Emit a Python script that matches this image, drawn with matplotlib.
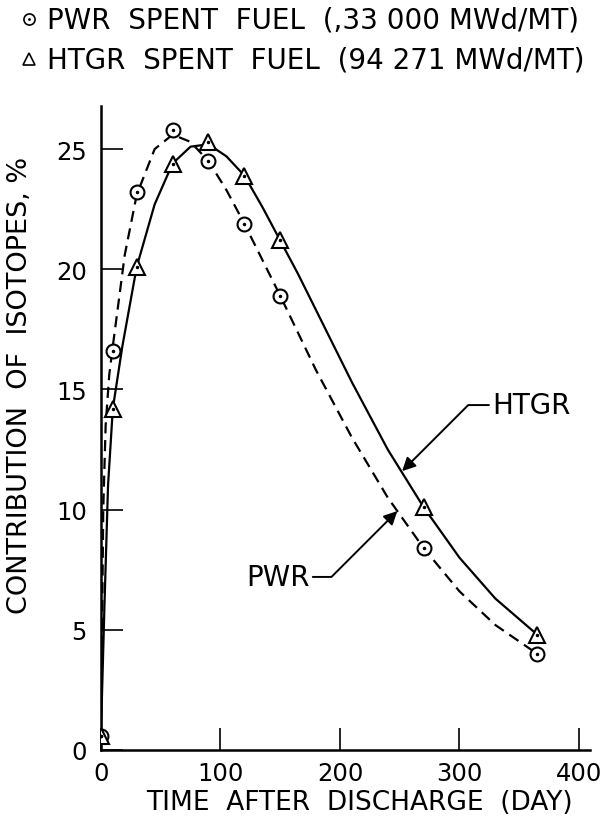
import matplotlib.pyplot as plt
from matplotlib.lines import Line2D

# measured points
days = [0, 10, 30, 60, 90, 120, 150, 270, 365]
pwr = [0.6, 16.6, 23.2, 25.8, 24.5, 21.9, 18.9, 8.4, 4.0]
htgr = [0.6, 14.2, 20.1, 24.4, 25.3, 23.9, 21.2, 10.1, 4.8]

# curves
pwr_curve_x = [0, 1, 2, 4, 7, 10, 20, 30, 45, 60, 75, 90, 105, 120, 135, 150, 180, 210, 240, 270, 300, 330, 365]
pwr_curve_y = [0.6, 5, 10, 13.5, 15.6, 16.8, 20.6, 23.1, 25.0, 25.6, 25.3, 24.5, 23.3, 21.9, 20.4, 18.9, 15.8, 13.0, 10.5, 8.4, 6.6, 5.2, 4.0]
htgr_curve_x = [0, 3, 6, 10, 18, 30, 45, 60, 75, 90, 105, 120, 135, 150, 165, 180, 195, 210, 225, 240, 255, 270, 300, 330, 365]
htgr_curve_y = [0.6, 6, 11, 14.2, 16.8, 20.1, 22.7, 24.4, 25.1, 25.2, 24.7, 23.9, 22.6, 21.2, 19.8, 18.3, 16.8, 15.3, 13.9, 12.5, 11.3, 10.1, 8.0, 6.3, 4.8]

legend_lines = ["PWR  SPENT  FUEL  (,33 000 MWd/MT)", "HTGR  SPENT  FUEL  (94 271 MWd/MT)"]

fig = plt.figure(figsize=(6.15, 8.28), dpi=100)
ax = fig.add_axes([0.164, 0.093, 0.795, 0.778])

ax.plot(htgr_curve_x, htgr_curve_y, color="black", lw=1.6, zorder=2)
ax.plot(pwr_curve_x, pwr_curve_y, color="black", lw=1.6, ls=(0, (5, 3)), zorder=2)

ax.plot(days, pwr, ls="none", marker="o", ms=10, mfc="white", mec="black", mew=1.5, zorder=3)
ax.plot(days, pwr, ls="none", marker=".", ms=3, color="black", zorder=4)
ax.plot(days, htgr, ls="none", marker="^", ms=11, mfc="white", mec="black", mew=1.5, zorder=3)
ax.plot(days, htgr, ls="none", marker=".", ms=3, color="black", zorder=4)

ax.set_xlim(0, 409)
ax.set_ylim(0, 26.8)
ax.set_xticks([0, 100, 200, 300, 400])
ax.set_yticks([0, 5, 10, 15, 20, 25])
ax.tick_params(direction="in", length=16, width=1.2, labelsize=17.5, pad=8)
ax.tick_params(axis="y", pad=10)
for s in ["top", "right"]:
    ax.spines[s].set_visible(False)
for s in ["left", "bottom"]:
    ax.spines[s].set_linewidth(1.8)
fig.text(0.585, 1 - 803 / 828, "TIME  AFTER  DISCHARGE  (DAY)", fontsize=19, ha="center", va="center")
fig.text(0.033, 1 - 385 / 828, "CONTRIBUTION  OF  ISOTOPES, %", fontsize=19.5, ha="center", va="center",
         rotation=90)

# labels with leaders
ax.annotate("HTGR", xy=(252, 11.6), xytext=(327, 14.35), fontsize=20, va="center", ha="left",
            arrowprops=dict(arrowstyle="-|>", color="black", lw=1.4,
                            connectionstyle="angle,angleA=0,angleB=45,rad=0", shrinkA=0, shrinkB=0))
ax.annotate("PWR", xy=(248, 9.94), xytext=(175, 7.2), fontsize=20, va="center", ha="right",
            arrowprops=dict(arrowstyle="-|>", color="black", lw=1.4,
                            connectionstyle="angle,angleA=0,angleB=45,rad=0", shrinkA=0, shrinkB=0))

# legend at top
fig.add_artist(Line2D([0.047], [1 - 20 / 828], marker="o", ms=8, mfc="white", mec="black", mew=1.2, ls="none"))
fig.add_artist(Line2D([0.047], [1 - 20 / 828], marker=".", ms=2, color="black", ls="none"))
fig.add_artist(Line2D([0.047], [1 - 60 / 828], marker="^", ms=9, mfc="white", mec="black", mew=1.2, ls="none"))
fig.text(0.077, 1 - 20 / 828, legend_lines[0], fontsize=20, va="center", ha="left")
fig.text(0.077, 1 - 60 / 828, legend_lines[1], fontsize=20, va="center", ha="left")

fig.savefig("out.png", dpi=100)
